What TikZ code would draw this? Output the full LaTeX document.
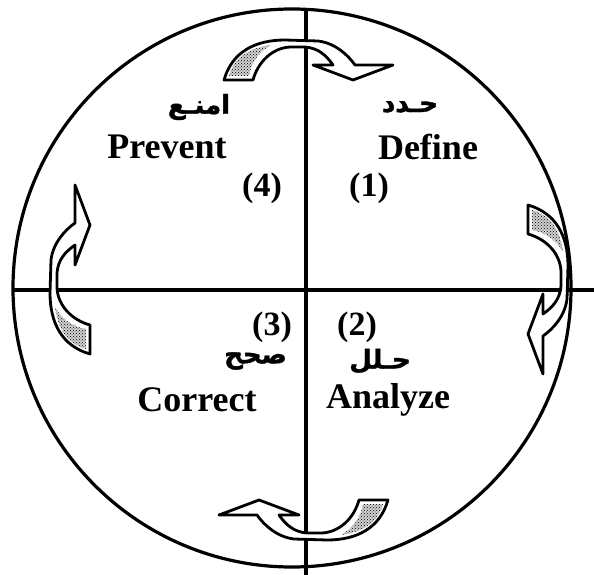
\documentclass[tikz,border=0pt]{standalone}
\usepackage{fontspec}
\setmainfont{Liberation Serif}
\newfontfamily\arabicfont[Script=Arabic, BoldFeatures={FakeBold=1.5}]{DejaVu Sans}
\TeXXeTstate=1
\usepackage{tikz}
\usetikzlibrary{
    positioning,
    patterns,
}
\tikzset{
    % Text styles
    step label/.style={font=\fontsize{36}{40}\selectfont\bfseries, inner sep=0pt},
    arabic label/.style={font=\arabicfont\bfseries\fontsize{26}{28}\selectfont, inner sep=0pt},
    number label/.style={font=\fontsize{34}{38}\selectfont\bfseries, inner sep=0pt},
    % Line styles
    axis line/.style={line width=3.2pt},
    % Arrow styles
    cycle arrow/.style={draw, line width=2.8pt, fill=white, line join=round},
    arrow shade/.style={pattern=crosshatch dots, pattern color=black},
}
% curved block arrow, drawn for the top position
\newcommand{\cyclearrow}[1]{%
    \begin{scope}[#1]
        \path[cycle arrow] (224,80) .. controls (232,52) and (255,40) .. (285,40)
            -- (318,41) .. controls (335,43) and (348,55) .. (355,65)
            -- (393,65) -- (353,80) -- (313,65) -- (333,65)
            .. controls (326,55) and (318,48) .. (305,47) -- (290,47)
            .. controls (272,48) and (258,62) .. (253,80) -- cycle;
        \fill[gray!35] (229,76) .. controls (234,58) and (248,48) .. (271,45)
            .. controls (258,52) and (251,64) .. (249,76) -- cycle;
        \fill[arrow shade] (229,76) .. controls (234,58) and (248,48) .. (271,45)
            .. controls (258,52) and (251,64) .. (249,76) -- cycle;
    \end{scope}}

\begin{document}
\begin{tikzpicture}[x=1pt, y=-1pt]
    \useasboundingbox (0,0) rectangle (594,575);

    % Circle and axes
    \draw[axis line] (292,288) circle [radius=279];
    \coordinate (top) at (306,9);
    \coordinate (bottom) at (306,575);
    \coordinate (left) at (14,290);
    \coordinate (right) at (594,290);
    \draw[axis line] (top) -- (bottom);
    \draw[axis line] (left) -- (right);

    % Cycle arrows
    \cyclearrow{}
    \cyclearrow{shift={(12,-3)}, rotate around={-90:(306,290)}}
    \cyclearrow{rotate around={180:(306,290)}}
    \cyclearrow{shift={(-6,-18)}, rotate around={90:(306,290)}}

    % Step labels
    \node[arabic label] (prevent ar) at (199,107) {\beginR امنـع\endR};
    \node[step label] (prevent) at (167,147) {Prevent};
    \node[arabic label] (define ar) at (410,107) {\beginR حـدد\endR};
    \node[step label] (define) at (428,147) {Define};
    \node[number label] (step4) at (262,188) {(4)};
    \node[number label] (step1) at (369,188) {(1)};
    \node[number label] (step3) at (272,327) {(3)};
    \node[number label] (step2) at (357,327) {(2)};
    \node[arabic label, anchor=east] (correct ar) at (287,361) {\beginR صحح\endR};
    \node[arabic label] (analyze ar) at (380,361) {\beginR حـلل\endR};
    \node[step label] (correct) at (197,400) {Correct};
    \node[step label] (analyze) at (388,400) {Analyze};
\end{tikzpicture}
\end{document}
